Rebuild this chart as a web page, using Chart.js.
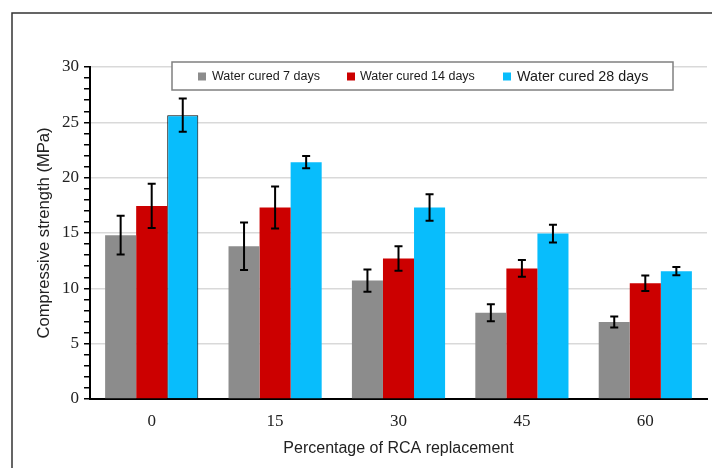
<!DOCTYPE html>
<html>
<head>
<meta charset="utf-8">
<script src="https://cdn.jsdelivr.net/npm/chart.js@4/dist/chart.umd.min.js"></script>
<style>
  html, body { margin: 0; padding: 0; background: #fff; }
  canvas { display: block; }
</style>
</head>
<body>
<canvas id="c" width="712" height="468"></canvas>
<script>
// ---- data ----
const categories = ['0', '15', '30', '45', '60'];
const seriesNames = ['Water cured 7 days', 'Water cured 14 days', 'Water cured 28 days'];
const cured7  = [14.8, 13.8, 10.7, 7.8, 6.95];
const cured14 = [17.45, 17.3, 12.7, 11.8, 10.45];
const cured28 = [25.65, 21.4, 17.3, 14.95, 11.55];
const err7  = [1.75, 2.15, 1.0, 0.77, 0.5];
const err14 = [2.0, 1.9, 1.1, 0.75, 0.7];
const err28 = [1.5, 0.55, 1.2, 0.8, 0.37];
const yMin = 0, yMax = 30, yMajorStep = 5, yMinorStep = 1;

const colors = ['#8c8c8c', '#cc0000', '#08bdfc'];
const errors = [err7, err14, err28];

const frame = {
  id: 'frame',
  beforeDraw(chart) {
    const ctx = chart.ctx;
    ctx.save();
    ctx.fillStyle = '#fff';
    ctx.fillRect(0, 0, chart.width, chart.height);
    ctx.strokeStyle = '#333';
    ctx.lineWidth = 1.5;
    ctx.beginPath();
    ctx.moveTo(12, chart.height);
    ctx.lineTo(12, 13);
    ctx.lineTo(chart.width, 13);
    ctx.stroke();
    ctx.restore();
  }
};

const errorBars = {
  id: 'errorBars',
  afterDatasetsDraw(chart) {
    const ctx = chart.ctx;
    const y = chart.scales.y;
    ctx.save();
    ctx.strokeStyle = '#000';
    ctx.lineWidth = 2;
    chart.data.datasets.forEach((ds, di) => {
      const meta = chart.getDatasetMeta(di);
      meta.data.forEach((bar, i) => {
        const v = ds.data[i], e = errors[di][i];
        const top = y.getPixelForValue(v + e), bot = y.getPixelForValue(v - e);
        const x = bar.x, cap = 4;
        ctx.beginPath();
        ctx.moveTo(x, top); ctx.lineTo(x, bot);
        ctx.moveTo(x - cap, top); ctx.lineTo(x + cap, top);
        ctx.moveTo(x - cap, bot); ctx.lineTo(x + cap, bot);
        ctx.stroke();
      });
    });
    ctx.restore();
  }
};

const customLegend = {
  id: 'customLegend',
  afterDraw(chart) {
    const ctx = chart.ctx;
    ctx.save();
    const bx = 172, by = 62, bw = 501, bh = 28;
    ctx.fillStyle = '#fff';
    ctx.fillRect(bx, by, bw, bh);
    ctx.strokeStyle = '#808080';
    ctx.lineWidth = 1.5;
    ctx.strokeRect(bx, by, bw, bh);
    const items = [
      { sx: 198, tx: 212, size: 12.5 },
      { sx: 347, tx: 360, size: 12.5 },
      { sx: 503, tx: 517, size: 14.3 }
    ];
    const cy = by + bh / 2 + 0.5;
    items.forEach((it, i) => {
      ctx.fillStyle = colors[i];
      ctx.fillRect(it.sx, cy - 4, 8, 8);
      ctx.fillStyle = '#1a1a1a';
      ctx.font = it.size + 'px "Liberation Sans", Arial, sans-serif';
      ctx.textBaseline = 'middle';
      ctx.textAlign = 'left';
      ctx.fillText(seriesNames[i], it.tx, cy + 0.5);
    });
    ctx.restore();
  }
};

const datasets = [cured7, cured14, cured28].map((d, i) => ({
  label: seriesNames[i],
  data: d,
  backgroundColor: colors[i],
  borderColor: '#000',
  borderWidth: i === 2 ? d.map((_, j) => j === 0 ? 1 : 0) : 0,
  borderSkipped: 'bottom'
}));

new Chart(document.getElementById('c'), {
  type: 'bar',
  data: { labels: categories, datasets },
  options: {
    responsive: false,
    animation: false,
    devicePixelRatio: 1,
    layout: { padding: { left: 0, top: 67, right: 5, bottom: 0 } },
    plugins: { legend: { display: false }, tooltip: { enabled: false } },
    datasets: { bar: { categoryPercentage: 0.755, barPercentage: 1.0 } },
    scales: {
      x: {
        grid: { display: false, drawTicks: false },
        border: { display: true, color: '#000', width: 2 },
        ticks: { color: '#222', font: { family: '"Liberation Serif", "Times New Roman", serif', size: 17 }, padding: 12 },
        title: { display: true, text: 'Percentage of RCA replacement', color: '#222',
                 font: { family: '"Liberation Sans", Arial, sans-serif', size: 16 }, padding: { top: 4, bottom: 10 } },
        afterFit(s) { s.height = 69; }
      },
      y: {
        min: yMin, max: yMax,
        grid: {
          color: (c) => (c.tick && c.tick.value % yMajorStep === 0) ? '#d9d9d9' : 'rgba(0,0,0,0)',
          lineWidth: 1.5,
          tickColor: '#000',
          tickLength: 6,
          drawTicks: true
        },
        border: { display: true, color: '#000', width: 2 },
        ticks: {
          stepSize: yMinorStep, autoSkip: false,
          color: '#222', padding: 5,
          font: { family: '"Liberation Serif", "Times New Roman", serif', size: 17 },
          callback: (v) => v % yMajorStep === 0 ? String(v) : ''
        },
        title: { display: true, text: 'Compressive strength (MPa)', color: '#222',
                 font: { family: '"Liberation Sans", Arial, sans-serif', size: 16.6 }, padding: { top: 34, bottom: 0 } },
        afterFit(s) { s.width = 90; }
      }
    }
  },
  plugins: [frame, errorBars, customLegend]
});
</script>
</body>
</html>
